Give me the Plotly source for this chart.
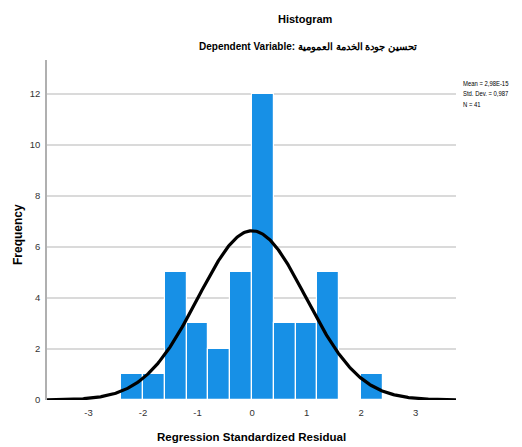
import numpy as np
import plotly.graph_objects as go

bin_left = [-2.4, -2.0, -1.6, -1.2, -0.8, -0.4, 0.0, 0.4, 0.8, 1.2, 1.6, 2.0]
counts = [1, 1, 5, 3, 2, 5, 12, 3, 3, 5, 0, 1]
bin_width = 0.4
mean = 2.98e-15
std = 0.987
n = 41
x_ticks = [-3, -2, -1, 0, 1, 2, 3]
y_ticks = [0, 2, 4, 6, 8, 10, 12]
stat_lines = ["Mean = 2,98E-15", "Std. Dev. = 0,987", "N = 41"]

centers = [b + bin_width / 2 for b in bin_left]
xs = np.linspace(-3.76, 3.74, 400)
ys = n * bin_width * np.exp(-0.5 * ((xs - mean) / std) ** 2) / (std * np.sqrt(2 * np.pi))

FONT = "Liberation Sans, Arial, sans-serif"
BFONT = "Liberation Sans, Arial, sans-serif"

fig = go.Figure()
fig.add_trace(go.Bar(
    x=centers, y=counts, width=bin_width,
    marker=dict(color="#1790e6", line=dict(color="#ffffff", width=1.2)),
    hoverinfo="skip",
))
fig.add_trace(go.Scatter(
    x=xs, y=ys, mode="lines",
    line=dict(color="#000000", width=3.2),
    hoverinfo="skip", cliponaxis=False,
))

pl, pr, pt, pb = 47, 522 - 66, 60, 447 - 47


def px(xp, yp):
    return (xp - pl) / (pr - pl), (pb - yp) / (pb - pt)


def ann(text, xp, yp, size, xanchor="center", angle=0, bold=True):
    x, y = px(xp, yp)
    return dict(text=f"<b>{text}</b>" if bold else text, x=x, y=y,
                xref="paper", yref="paper", showarrow=False,
                xanchor=xanchor, yanchor="middle", textangle=angle,
                font=dict(family=BFONT, size=size, color="#000000"))


annotations = [
    ann("Histogram", 305, 19, 11),
    ann("Dependent Variable: تحسين جودة الخدمة العمومية", 308, 47, 10),
    ann("Frequency", 18, 235, 12, angle=-90),
    ann("Regression Standardized Residual", 251, 437, 11.5),
]
stat = ann("<br>".join(stat_lines), 461, 93.5, 8, xanchor="left", bold=False)
stat["align"] = "left"
stat["font"]["family"] = FONT
annotations.append(stat)

fig.update_layout(
    width=522, height=447,
    margin=dict(l=pl, r=522 - pr, t=pt, b=447 - pb),
    paper_bgcolor="white", plot_bgcolor="white",
    showlegend=False,
    bargap=0,
    xaxis=dict(
        range=[-3.76, 3.74], tickvals=x_ticks,
        ticktext=[str(v) for v in x_ticks],
        showgrid=False, zeroline=False, showline=False,
        ticks="", tickfont=dict(family=FONT, size=9.5, color="#333333"),
        ticklabelstandoff=5,
    ),
    yaxis=dict(
        range=[0, 13.32], tickvals=y_ticks,
        showgrid=True, gridcolor="#dadada", gridwidth=1.5,
        zeroline=False, showline=True, linecolor="#b0b0b0", linewidth=1.5,
        ticks="", tickfont=dict(family=FONT, size=9.5, color="#333333"),
        ticklabelstandoff=3,
    ),
    annotations=annotations,
)

post = """
(function(){
  var gd = document.getElementById('{plot_id}');
  function squeeze(){
    var ts = gd.querySelectorAll('text.annotation-text');
    ts.forEach(function(t){
      if (t.textContent.indexOf('Mean') === 0) {
        t.style.transformBox = 'fill-box';
        t.style.transformOrigin = 'left center';
        t.style.transform = 'scaleX(0.74)';
      }
    });
  }
  squeeze();
  setTimeout(squeeze, 0);
  if (gd.on) gd.on('plotly_afterplot', squeeze);
})();
"""

fig.write_html("out.html", post_script=post)
